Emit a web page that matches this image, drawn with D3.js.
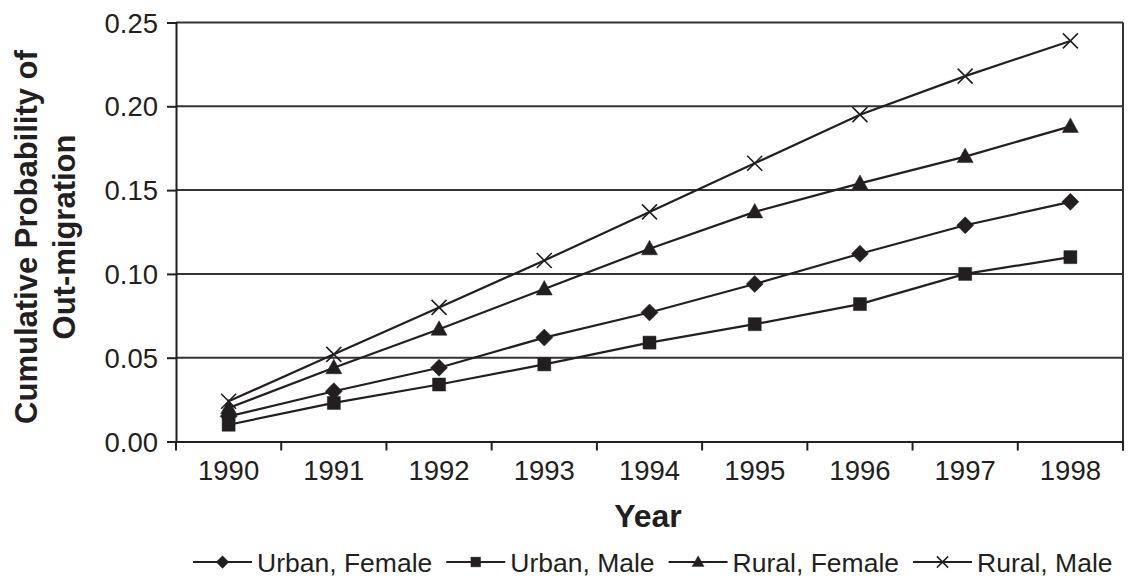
<!DOCTYPE html>
<html><head><meta charset="utf-8">
<script src="https://cdn.jsdelivr.net/npm/d3@7/dist/d3.min.js"></script>
<style>body{margin:0;background:#fff}svg{display:block}text{font-family:"Liberation Sans",Arial,sans-serif;fill:#231f20}</style>
</head><body><svg id="c" width="1129" height="584"></svg>
<script>
const years = ["1990","1991","1992","1993","1994","1995","1996","1997","1998"];
const urbanFemale = [0.015,0.030,0.044,0.062,0.077,0.094,0.112,0.129,0.143];
const urbanMale   = [0.010,0.023,0.034,0.046,0.059,0.070,0.082,0.100,0.110];
const ruralFemale = [0.020,0.044,0.067,0.091,0.115,0.137,0.154,0.170,0.188];
const ruralMale   = [0.024,0.052,0.080,0.108,0.137,0.166,0.195,0.218,0.239];
const seriesNames = ["Urban, Female","Urban, Male","Rural, Female","Rural, Male"];
const yTicks = [0,0.05,0.10,0.15,0.20,0.25];

const ink = "#231f20";
const series = [
  {name:seriesNames[0], values:urbanFemale, shape:"diamond"},
  {name:seriesNames[1], values:urbanMale, shape:"square"},
  {name:seriesNames[2], values:ruralFemale, shape:"triangle"},
  {name:seriesNames[3], values:ruralMale, shape:"x"}
];
const L=176, R=1123, T=22.5, B=441.5;
const svg = d3.select("#c");
const x = d3.scaleBand().domain(years).range([L,R]).padding(0);
const y = d3.scaleLinear().domain([0,0.25]).range([B,T]);
const cx = d => x(d)+x.bandwidth()/2;

// gridlines
svg.append("g").selectAll("line").data(yTicks.filter(v=>v>0)).join("line")
  .attr("x1",L).attr("x2",R).attr("y1",d=>y(d)).attr("y2",d=>y(d))
  .attr("stroke","#333").attr("stroke-width",2);
// right border
svg.append("line").attr("x1",R).attr("x2",R).attr("y1",T).attr("y2",B+9).attr("stroke","#333").attr("stroke-width",2);

// y axis
const ya = svg.append("g").attr("transform",`translate(${L},0)`)
  .call(d3.axisLeft(y).tickValues(yTicks).tickFormat(d3.format(".2f")).tickSize(9).tickPadding(9));
ya.select(".domain").attr("stroke",ink).attr("stroke-width",2);
ya.selectAll(".tick line").attr("stroke",ink).attr("stroke-width",2);
ya.selectAll(".tick text").attr("font-size",27.5).attr("dy","0.35em").style("font-family","Liberation Sans, Arial, sans-serif").attr("fill",ink);

// x axis
const xa = svg.append("g").attr("transform",`translate(0,${B})`)
  .call(d3.axisBottom(x).tickSize(0).tickPadding(19));
xa.select(".domain").attr("stroke",ink).attr("stroke-width",2);
xa.selectAll(".tick text").attr("font-size",27.5).attr("dy","0.71em").style("font-family","Liberation Sans, Arial, sans-serif").attr("fill",ink);
// boundary ticks
const bounds = years.map(d=>x(d)).concat([R]);
svg.append("g").selectAll("line").data(bounds).join("line")
  .attr("x1",d=>d).attr("x2",d=>d).attr("y1",B).attr("y2",B+9)
  .attr("stroke",ink).attr("stroke-width",2);

// symbols
function symPath(shape){
  if(shape==="diamond") return "M0,-8.5L8.5,0L0,8.5L-8.5,0Z";
  if(shape==="square") return "M-6.5,-6.5H6.5V6.5H-6.5Z";
  if(shape==="triangle") return "M0,-8.5L8,6L-8,6Z";
  return "M-7.5,-7.5L7.5,7.5M7.5,-7.5L-7.5,7.5";
}
const line = d3.line().x((d,i)=>cx(years[i])).y(d=>y(d));
series.forEach(s=>{
  svg.append("path").attr("d",line(s.values)).attr("fill","none").attr("stroke",ink).attr("stroke-width",2.2);
});
series.forEach(s=>{
  svg.append("g").selectAll("path").data(s.values).join("path")
    .attr("transform",(d,i)=>`translate(${cx(years[i])},${y(d)})`)
    .attr("d",symPath(s.shape))
    .attr("fill",s.shape==="x"?"none":ink)
    .attr("stroke",ink).attr("stroke-width",s.shape==="x"?1.6:0.5);
});

// titles
svg.append("text").attr("x",648).attr("y",527).attr("text-anchor","middle")
  .attr("font-size",32).attr("font-weight","bold").text("Year");
const yt = svg.append("text").attr("transform","translate(37,237) rotate(-90)").attr("text-anchor","middle")
  .attr("font-size",31).attr("font-weight","bold");
yt.append("tspan").attr("x",0).attr("y",0).text("Cumulative Probability of");
yt.append("tspan").attr("x",0).attr("y",38).text("Out-migration");

// legend
let lx = 193;
const ly = 562;
series.forEach(s=>{
  const g = svg.append("g");
  g.append("line").attr("x1",lx).attr("x2",lx+59).attr("y1",ly).attr("y2",ly).attr("stroke",ink).attr("stroke-width",2);
  g.append("path").attr("transform",`translate(${lx+29.5},${ly}) scale(0.75)`).attr("d",symPath(s.shape))
    .attr("fill",s.shape==="x"?"none":ink).attr("stroke",ink).attr("stroke-width",s.shape==="x"?2:0.5);
  const t = g.append("text").attr("x",lx+64).attr("y",ly+10).attr("font-size",26.5).text(s.name);
  lx = lx+64+t.node().getComputedTextLength()+14;
});
</script></body></html>
